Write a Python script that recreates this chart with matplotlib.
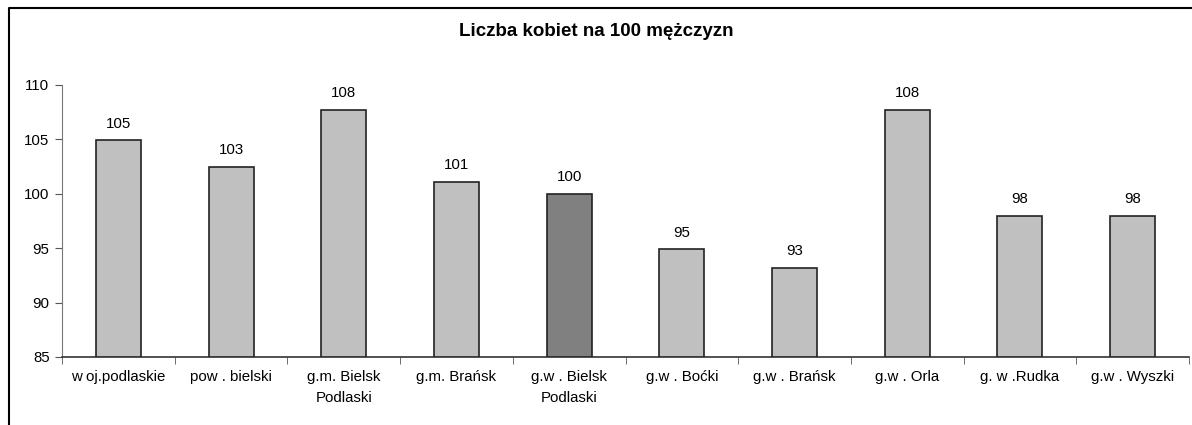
import matplotlib.pyplot as plt
from matplotlib.lines import Line2D
import numpy as np

plt.rcParams['font.family'] = ['Liberation Sans', 'DejaVu Sans']

kategorie = ['w oj.podlaskie', 'pow . bielski', 'g.m. Bielsk\nPodlaski', 'g.m. Brańsk',
             'g.w . Bielsk\nPodlaski', 'g.w . Boćki', 'g.w . Brańsk', 'g.w . Orla',
             'g. w .Rudka', 'g.w . Wyszki']
wartosci = [104.9, 102.5, 107.7, 101.1, 100.0, 94.9, 93.2, 107.7, 98.0, 98.0]
etykiety = ['105', '103', '108', '101', '100', '95', '93', '108', '98', '98']
kolory = ['#c0c0c0'] * 4 + ['#808080'] + ['#c0c0c0'] * 5

fig = plt.figure(figsize=(11.92, 4.25), dpi=100)
ax = fig.add_axes([62 / 1192, 1 - 357 / 425, (1189 - 62) / 1192, (357 - 85) / 425])

x = np.arange(len(wartosci))
ax.bar(x, np.array(wartosci) - 85, bottom=85, width=0.4, color=kolory,
       edgecolor='#222222', linewidth=1.2, zorder=3)
for xi, v, t in zip(x, wartosci, etykiety):
    ax.annotate(t, (xi, v), xytext=(0, 7), textcoords='offset points',
                ha='center', va='bottom', fontsize=10.8)

ax.set_xlim(-0.5, len(wartosci) - 0.5)
ax.set_ylim(85, 110)
ax.set_yticks([85, 90, 95, 100, 105, 110])
ax.set_xticks(x)
ax.set_xticklabels(kategorie, fontsize=10.8, linespacing=1.65)
ax.set_xticks(np.arange(-0.5, len(wartosci)), minor=True)
ax.tick_params(axis='x', which='major', length=0, pad=9)
ax.tick_params(axis='x', which='minor', length=5, direction='out', color='#555555')
ax.tick_params(axis='y', length=5, direction='out', labelsize=10.8, color='#555555', pad=4)

for s in ['top', 'right']:
    ax.spines[s].set_visible(False)
ax.spines['left'].set_color('#777777')
ax.spines['bottom'].set_color('#333333')
ax.spines['bottom'].set_linewidth(1.2)

fig.text(0.5, 1 - 32 / 425, 'Liczba kobiet na 100 mężczyzn', ha='center', va='center',
         fontsize=13.5, fontweight='bold')

# ramka wykresu (lewa i gorna krawedz)
bx = 8.5 / 1192
by = 1 - 7.5 / 425
fig.add_artist(Line2D([bx, bx, 1], [0, by, by], transform=fig.transFigure,
                      color='black', linewidth=1.5))

fig.savefig('out.png', dpi=100)
